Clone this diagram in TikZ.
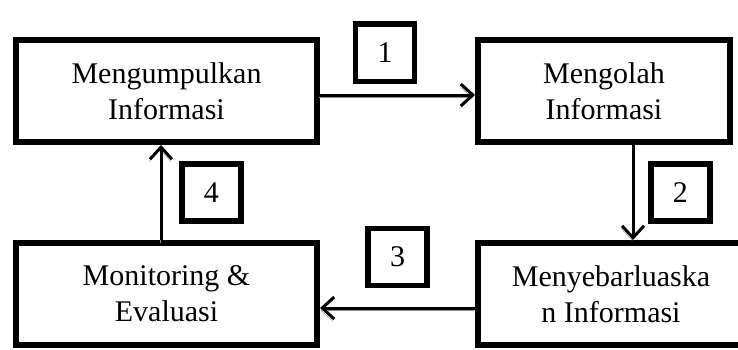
\documentclass[tikz,border=0pt]{standalone}
\usepackage{fontspec}
\setmainfont{Liberation Serif}
\usetikzlibrary{arrows.meta, positioning}

\begin{document}
\begin{tikzpicture}[x=1pt, y=1pt, node distance=155pt,
    stage/.style={rectangle, draw=black, line width=6pt, outer sep=3pt, fill=white,
                  minimum width=301pt, minimum height=102pt, align=center,
                  font=\fontsize{30}{36}\selectfont},
    numbox/.style={rectangle, draw=black, line width=5.5pt, outer sep=2.75pt, fill=white,
                  minimum width=59pt, minimum height=57pt, font=\fontsize{30}{36}\selectfont},
    arrow/.style={-{Straight Barb[length=12pt, width=22pt]}, line width=3pt,
                  preaction={draw=black!45, transform canvas={shift={(-1pt,-2.5pt)}}}}]

    \useasboundingbox (0,0) rectangle (738,349);
    \clip (0,0) rectangle (738,349);

    \node[stage] (collect) at (166.5,258) {Mengumpulkan\\Informasi};
    \node[stage, minimum width=252pt, right=of collect] (process) {Mengolah\\Informasi};
    \node[stage, below=95pt of collect] (monitor) {Monitoring \&\\Evaluasi};
    \node[stage, minimum width=266pt, right=of monitor] (spread) {Menyebarluaska\\n Informasi};

    \draw[arrow] ([yshift=-4pt]collect.east) -- node[numbox, pos=0.42, above=11pt] (step1) {1}
        ([yshift=-4pt]process.west);
    \draw[arrow] ([xshift=29pt]process.south) -- node[numbox, right=15pt] (step2) {2}
        ([xshift=29pt]process.south |- spread.north);
    \draw[arrow] ([yshift=-14pt]spread.west) -- node[numbox, above=20pt] (step3) {3}
        ([yshift=-14pt]monitor.east);
    \draw[arrow] ([xshift=-5.5pt]monitor.north) -- node[numbox, right=18pt] (step4) {4}
        ([xshift=-5.5pt]collect.south);
\end{tikzpicture}
\end{document}
